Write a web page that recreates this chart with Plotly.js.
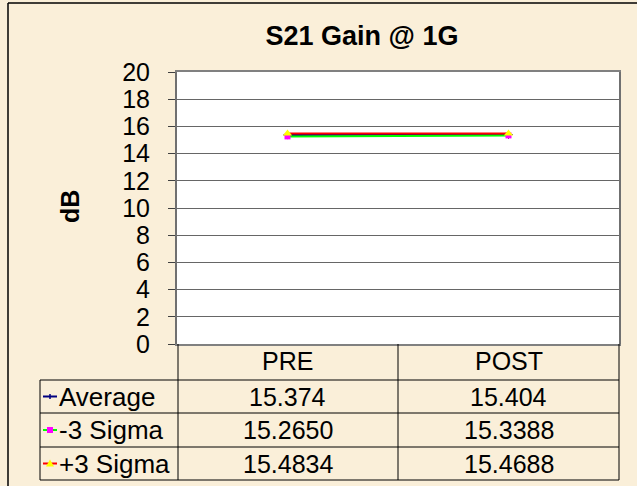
<!DOCTYPE html>
<html><head><meta charset="utf-8">
<script src="https://cdn.plot.ly/plotly-3.0.1.min.js"></script>
<style>html,body{margin:0;padding:0;background:#FAEFD9;}</style>
</head><body><div id="chart" style="width:637px;height:486px;"></div>
<script>
const categories = ['PRE', 'POST'];
const seriesNames = ['Average', '-3 Sigma', '+3 Sigma'];
const average = [15.374, 15.404];
const minus3Sigma = [15.2650, 15.3388];
const plus3Sigma = [15.4834, 15.4688];
const averageLabels = ['15.374', '15.404'];
const minus3Labels = ['15.2650', '15.3388'];
const plus3Labels = ['15.4834', '15.4688'];
const yTicks = [0, 2, 4, 6, 8, 10, 12, 14, 16, 18, 20];
const chartTitle = 'S21 Gain @ 1G';
const yTitle = 'dB';

const W = 637, H = 486, L = 177, R = 619, T = 72, B = 344;
const px = x => (x - L) / (R - L);
const py = y => (B - y) / (B - T);
const FONT = 'Arial, "Liberation Sans", sans-serif';
const FS = 25;

const traces = [
  {x: categories, y: average, name: seriesNames[0], type: 'scatter', mode: 'lines+markers',
   line: {color: '#000080', width: 2}, marker: {symbol: 'cross-thin', size: 6, line: {color: '#000080', width: 1}}},
  {x: categories, y: minus3Sigma, name: seriesNames[1], type: 'scatter', mode: 'lines+markers',
   line: {color: '#00FF00', width: 2}, marker: {symbol: 'square', size: 6, color: '#FF00FF'}},
  {x: categories, y: plus3Sigma, name: seriesNames[2], type: 'scatter', mode: 'lines+markers',
   line: {color: '#FF0000', width: 2}, marker: {symbol: 'triangle-up', size: 8, color: '#FFFF00'}}
];

const rowEdges = [380, 413, 447, 480];
const rowCenters = [396.5, 430, 463.5];
const rowLabels = [averageLabels, minus3Labels, plus3Labels];
const keyColors = [
  {line: '#000080', marker: '#000080', shape: 'plus'},
  {line: '#00FF00', marker: '#FF00FF', shape: 'square'},
  {line: '#FF0000', marker: '#FFFF00', shape: 'triangle'}
];

const shapes = [];
const annotations = [];
const line = (x0, y0, x1, y1, color, width) => shapes.push({type: 'line', xref: 'paper', yref: 'paper',
  x0: px(x0), y0: py(y0), x1: px(x1), y1: py(y1), line: {color: color, width: width}});

// chart border
line(8, 3, 640, 3, '#000', 1.5);
line(8, 3, 8, 490, '#000', 1.5);
// table grid
rowEdges.forEach(y => line(40, y, 619, y, '#000', 1));
line(40, 380, 40, 480, '#000', 1);
[178, 398, 619].forEach(x => line(x, 344, x, 480, '#000', 1));

// header
categories.forEach(c => annotations.push({x: c, xref: 'x', y: py(361), yref: 'paper', text: c,
  showarrow: false, xanchor: 'center', yanchor: 'middle', font: {family: FONT, size: FS, color: '#000'}}));

seriesNames.forEach((name, i) => {
  const yc = rowCenters[i];
  const k = keyColors[i];
  line(43, yc, 57, yc, k.line, 2);
  if (k.shape === 'plus') {
    line(50, yc - 2.5, 50, yc + 2.5, k.marker, 1.5);
  } else if (k.shape === 'square') {
    shapes.push({type: 'rect', xref: 'paper', yref: 'paper', x0: px(47), x1: px(53), y0: py(yc + 3), y1: py(yc - 3),
      fillcolor: k.marker, line: {width: 0}});
  } else {
    shapes.push({type: 'path', xref: 'paper', yref: 'paper',
      path: `M ${px(46)} ${py(yc + 3)} L ${px(54)} ${py(yc + 3)} L ${px(50)} ${py(yc - 4)} Z`,
      fillcolor: k.marker, line: {width: 0}});
  }
  annotations.push({x: px(57), xref: 'paper', y: py(yc), yref: 'paper', text: name, showarrow: false,
    xanchor: 'left', yanchor: 'middle', font: {family: FONT, size: 26, color: '#000'}});
  categories.forEach((c, j) => annotations.push({x: c, xref: 'x', y: py(yc), yref: 'paper', text: rowLabels[i][j],
    showarrow: false, xanchor: 'center', yanchor: 'middle', font: {family: FONT, size: FS, color: '#000'}}));
});

// y title
annotations.push({x: px(70), xref: 'paper', y: py(207), yref: 'paper', text: '<b>' + yTitle + '</b>', textangle: -90,
  showarrow: false, xanchor: 'center', yanchor: 'middle', font: {family: FONT, size: FS, color: '#000'}});

const layout = {
  width: W, height: H,
  margin: {l: L, r: W - R, t: T, b: H - B, pad: 0},
  paper_bgcolor: '#FAEFD9', plot_bgcolor: '#FFFFFF',
  showlegend: false,
  title: {text: '<b>' + chartTitle + '</b>', xref: 'container', x: 362 / W, xanchor: 'center',
    yref: 'container', y: 1 - 36 / H, yanchor: 'middle', font: {family: FONT, size: 27, color: '#000'}},
  xaxis: {type: 'category', range: [-0.5, 1.5], showticklabels: false, ticks: '', showgrid: false,
    showline: true, mirror: true, linecolor: '#808080', linewidth: 2, zeroline: false, fixedrange: true},
  yaxis: {range: [0, 20], tickvals: yTicks, ticks: 'outside', ticklen: 7, tickcolor: '#404040', tickwidth: 1,
    ticklabelstandoff: 13,
    showgrid: true, gridcolor: '#666666', gridwidth: 1, showline: true, mirror: true, linecolor: '#707070', linewidth: 2,
    zeroline: false, tickfont: {family: FONT, size: FS, color: '#000'}, fixedrange: true},
  shapes: shapes,
  annotations: annotations
};

Plotly.newPlot('chart', traces, layout, {displayModeBar: false, staticPlot: true});
</script>
</body></html>
